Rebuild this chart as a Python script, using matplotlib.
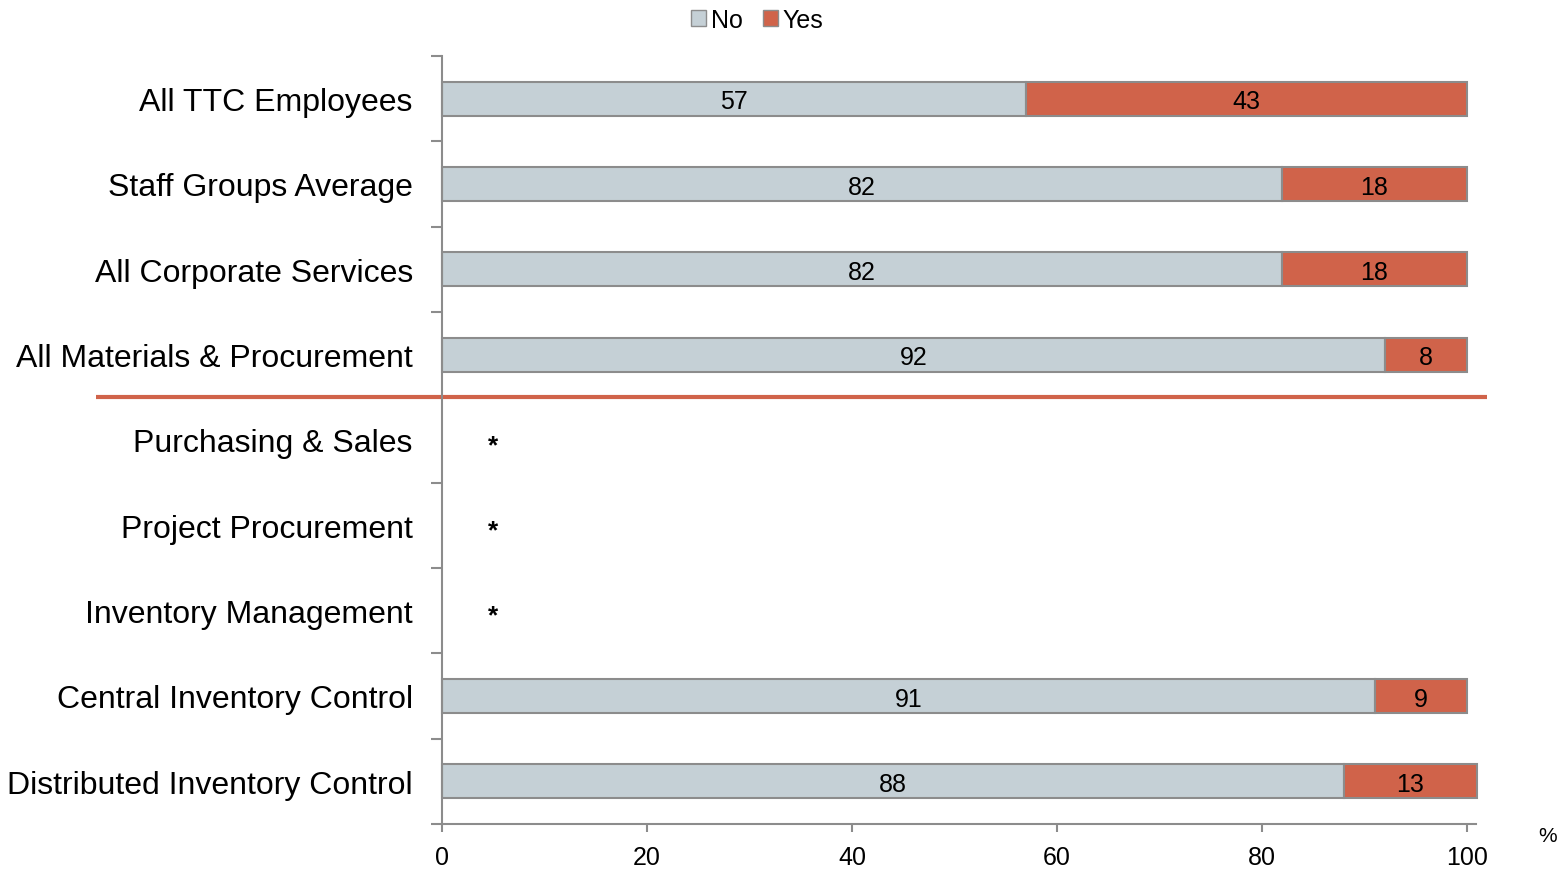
import matplotlib
matplotlib.use("Agg")
import matplotlib.pyplot as plt
import numpy as np
from matplotlib.patches import Patch

categories = ["All TTC Employees", "Staff Groups Average", "All Corporate Services",
              "All Materials & Procurement", "Purchasing & Sales", "Project Procurement",
              "Inventory Management", "Central Inventory Control", "Distributed Inventory Control"]
no_vals = [57, 82, 82, 92, None, None, None, 91, 88]
yes_vals = [43, 18, 18, 8, None, None, None, 9, 13]
xticks = [0, 20, 40, 60, 80, 100]

plt.rcParams['font.family'] = ['Liberation Sans', 'DejaVu Sans']
c_no = '#C5D0D6'
c_yes = '#D0634A'
c_edge = '#8C8C8C'

fig = plt.figure(figsize=(15.61, 8.70), dpi=100)
ax = fig.add_axes([442/1561, 1-825/870, (1476-442)/1561, (825-57)/870])

n = len(categories)
y = np.arange(n)
for i in range(n):
    if no_vals[i] is None:
        ax.text(5, y[i] + 0.06, '*', ha='center', va='center', fontsize=19, fontweight='bold')
        continue
    ax.barh(y[i], no_vals[i], height=0.4, color=c_no, edgecolor=c_edge, linewidth=1.5, clip_on=False)
    ax.barh(y[i], yes_vals[i], left=no_vals[i], height=0.4, color=c_yes, edgecolor=c_edge,
            linewidth=1.5, clip_on=False)
    ax.text(no_vals[i] / 2, y[i] + 0.03, str(no_vals[i]), ha='center', va='center', fontsize=18)
    ax.text(no_vals[i] + yes_vals[i] / 2, y[i] + 0.03, str(yes_vals[i]), ha='center', va='center', fontsize=18)

ax.set_ylim(n - 0.5, -0.5)
ax.set_xlim(0, 100.9)
ax.set_yticks(y)
ax.set_yticklabels(categories, fontsize=23)
ax.set_yticks(np.arange(-0.5, n, 1), minor=True)
ax.tick_params(axis='y', which='major', length=0, pad=21)
ax.tick_params(axis='y', which='minor', length=8, color=c_edge, width=1.5)
ax.set_xticks(xticks)
ax.set_xticklabels([str(t) for t in xticks], fontsize=18)
ax.tick_params(axis='x', length=6, color=c_edge, width=1.5, pad=9)

for s in ['top', 'right']:
    ax.spines[s].set_visible(False)
for s in ['left', 'bottom']:
    ax.spines[s].set_color(c_edge)
    ax.spines[s].set_linewidth(1.5)

# separator line
ax.plot([-33.8, 102], [3.5, 3.5], color=c_yes, linewidth=3, clip_on=False, solid_capstyle='butt')

fig.text(1548/1561, 1-837/870, '%', ha='center', va='center', fontsize=15)

handles = [Patch(facecolor=c_no, edgecolor=c_edge, label='No'),
           Patch(facecolor=c_yes, edgecolor=c_edge, label='Yes')]
fig.legend(handles=handles, loc='center', bbox_to_anchor=(757/1561, 1-21/870), ncol=2,
           frameon=False, fontsize=18, handlelength=0.6, handleheight=0.6,
           handletextpad=0.2, columnspacing=0.8, borderaxespad=0)

fig.savefig('out.png', dpi=100)
